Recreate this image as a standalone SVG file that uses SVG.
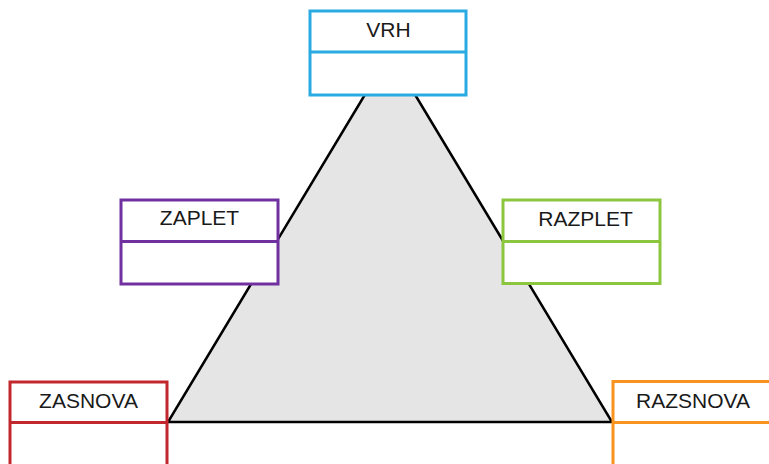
<svg xmlns="http://www.w3.org/2000/svg" width="769" height="464" viewBox="0 0 769 464">
<style>
.box{fill:#fff;stroke-width:3}
.lbl{font-family:"Liberation Sans",Arial,sans-serif;font-size:21px;fill:#1a1a1a;text-anchor:middle}
.tri{fill:#e5e5e5;stroke:#000;stroke-width:2.5;stroke-linejoin:miter}
</style>
<rect width="769" height="464" fill="#fff"/>
<g id="connectors">
<polygon class="tri" points="390,53 168,422 612,422"/>
</g>
<g id="vrh">
<rect class="box" x="310" y="11" width="156" height="84" stroke="#29abe2"/>
<line x1="310" y1="52" x2="466" y2="52" stroke="#29abe2" stroke-width="3"/>
<text class="lbl" x="388.5" y="36.5">VRH</text>
</g>
<g id="zaplet">
<rect class="box" x="121" y="200" width="157" height="84" stroke="#7030a0"/>
<line x1="121" y1="241.5" x2="278" y2="241.5" stroke="#7030a0" stroke-width="3"/>
<text class="lbl" x="199.5" y="225">ZAPLET</text>
</g>
<g id="razplet">
<rect class="box" x="503" y="200" width="157" height="83.5" stroke="#8cc63f"/>
<line x1="503" y1="241.5" x2="660" y2="241.5" stroke="#8cc63f" stroke-width="3"/>
<text class="lbl" x="585.5" y="226">RAZPLET</text>
</g>
<g id="zasnova">
<rect class="box" x="10" y="382" width="157" height="90" stroke="#c1272d"/>
<line x1="10" y1="422.5" x2="167" y2="422.5" stroke="#c1272d" stroke-width="3"/>
<text class="lbl" x="88.5" y="408">ZASNOVA</text>
</g>
<g id="razsnova">
<rect class="box" x="613" y="381.5" width="160" height="90" stroke="#f7931e"/>
<line x1="613" y1="422.5" x2="773" y2="422.5" stroke="#f7931e" stroke-width="3"/>
<text class="lbl" x="693" y="408">RAZSNOVA</text>
</g>
</svg>
